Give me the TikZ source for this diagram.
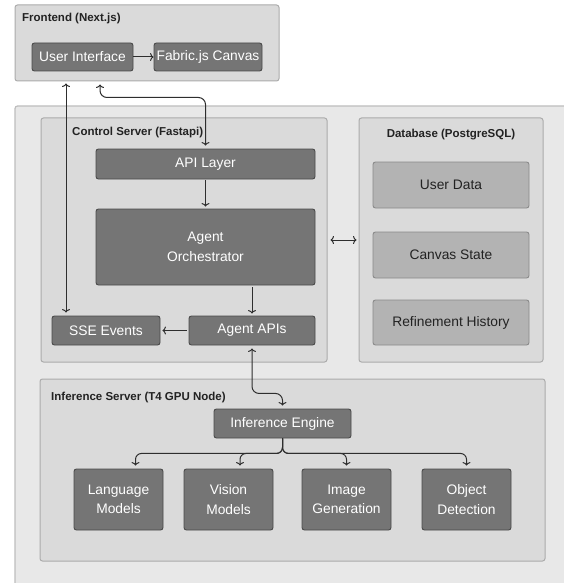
\documentclass[tikz,border=0pt]{standalone}
\usepackage{fontspec}
\setmainfont{Liberation Sans}
\usetikzlibrary{arrows.meta,calc}

\definecolor{linecol}{HTML}{2E2E2E}
\definecolor{outerfill}{HTML}{E8E8E8}
\definecolor{outerdraw}{HTML}{BDBDBD}
\definecolor{groupfill}{HTML}{DADADA}
\definecolor{groupdraw}{HTML}{ABABAB}
\definecolor{darkfill}{HTML}{757575}
\definecolor{darkdraw}{HTML}{4A4A4A}
\definecolor{midfill}{HTML}{B3B3B3}
\definecolor{middraw}{HTML}{8A8A8A}
\definecolor{titlecol}{HTML}{222222}

\tikzset{
  group/.style={draw=groupdraw, fill=groupfill, line width=1pt, rounded corners=2.5pt},
  darkbox/.style={draw=darkdraw, fill=darkfill, line width=0.9pt, rounded corners=2.5pt,
    text=white, font=\fontsize{13.8}{19.5}\selectfont, align=center, inner sep=0pt},
  databox/.style={draw=middraw, fill=midfill, line width=0.9pt, rounded corners=2.5pt,
    text=titlecol, font=\fontsize{13.8}{19.5}\selectfont, align=center, inner sep=0pt},
  grouptitle/.style={text=titlecol, font=\bfseries\fontsize{11.5}{13}\selectfont, inner sep=0pt},
  conn/.style={draw=linecol, line width=1pt, -{To[length=3.5pt,width=8pt]}},
  biconn/.style={draw=linecol, line width=1pt, {To[length=3.5pt,width=8pt]}-{To[length=3.5pt,width=8pt]}},
}

\begin{document}
\begin{tikzpicture}[x=1pt, y=-1pt]
\useasboundingbox (0,0) rectangle (563,583);

% whole system backdrop (runs past the page edge)
\path[draw=outerdraw, fill=outerfill, line width=1.2pt, rounded corners=2.5pt]
  (15,106) rectangle (600,620);

% --- Frontend ---
\node[group, minimum width=264pt, minimum height=76pt] (frontend) at (147,43) {};
\node[grouptitle, anchor=west] (fronttitle) at (22,19) {Frontend (Next.js)};
\node[darkbox, minimum width=101pt, minimum height=28pt] (ui) at (82.5,57) {User Interface};
\node[darkbox, minimum width=108pt, minimum height=28pt] (fabric) at (208,57) {Fabric.js Canvas};

% --- Control server ---
\node[group, minimum width=286pt, minimum height=244pt] (control) at (184,240) {};
\node[grouptitle, anchor=west] (controltitle) at (72,133) {Control Server (Fastapi)};
\node[darkbox, minimum width=219pt, minimum height=30pt] (api) at (205.5,164) {API Layer};
\node[darkbox, minimum width=219pt, minimum height=76pt] (orch) at (205.5,247) {Agent\\Orchestrator};
\node[darkbox, minimum width=108pt, minimum height=29pt] (sse) at (106,330.5) {SSE Events};
\node[darkbox, minimum width=126pt, minimum height=29pt] (agentapis) at (252,330.5) {Agent APIs};

% --- Database ---
\node[group, minimum width=184pt, minimum height=244pt] (database) at (451,240) {};
\node[grouptitle] (dbtitle) at (451,135) {Database (PostgreSQL)};
\node[databox, minimum width=156pt, minimum height=46pt] (userdata) at (451,185) {User Data};
\node[databox, minimum width=156pt, minimum height=46pt] (canvasstate) at (451,255) {Canvas State};
\node[databox, minimum width=156pt, minimum height=45pt] (history) at (451,322.5) {Refinement History};

% --- Inference server ---
\node[group, minimum width=505pt, minimum height=182pt] (inference) at (292.5,470) {};
\node[grouptitle, anchor=west] (inftitle) at (51,398) {Inference Server (T4 GPU Node)};
\node[darkbox, minimum width=137pt, minimum height=29pt] (engine) at (282.5,423.5) {Inference Engine};
\node[darkbox, minimum width=89pt, minimum height=61pt] (lang) at (118.5,499.5) {Language\\Models};
\node[darkbox, minimum width=89pt, minimum height=61pt] (vision) at (228.5,499.5) {Vision\\Models};
\node[darkbox, minimum width=89pt, minimum height=61pt] (imggen) at (346.5,499.5) {Image\\Generation};
\node[darkbox, minimum width=89pt, minimum height=61pt] (objdet) at (466.5,499.5) {Object\\Detection};

% --- connectors ---
\draw[conn] (ui) -- (fabric);
\draw[biconn, shorten <=3pt, shorten >=2pt]
  ([xshift=-40pt]sse.north) -- ([xshift=-40pt]sse.north |- frontend.south);
\draw[biconn, rounded corners=7pt, shorten <=3pt, shorten >=3pt]
  ([xshift=-47pt]frontend.south) -- ++(0,16) -| (api.north);
\draw[conn, shorten <=1pt, shorten >=2pt] (api) -- (orch);
\draw[conn, shorten <=2pt, shorten >=2pt] (orch.south -| agentapis.north) -- (agentapis.north);
\draw[conn, shorten <=2pt, shorten >=2pt] (agentapis) -- (sse);
\draw[biconn, shorten <=3pt, shorten >=2pt] (control.east) -- (database.west);
\draw[biconn, rounded corners=7pt, shorten <=3pt, shorten >=3pt]
  (agentapis.south) -- ++(0,48) -| (engine.north);
\draw[conn, rounded corners=6pt, shorten >=3pt] (engine.south) -- ++(0,15) -| ([xshift=17pt]lang.north);
\draw[conn, rounded corners=6pt, shorten >=3pt] (engine.south) -- ++(0,15) -| ([xshift=11.5pt]vision.north);
\draw[conn, rounded corners=6pt, shorten >=3pt] (engine.south) -- ++(0,15) -| (imggen.north);
\draw[conn, rounded corners=6pt, shorten >=3pt] (engine.south) -- ++(0,15) -| (objdet.north);
\end{tikzpicture}
\end{document}
